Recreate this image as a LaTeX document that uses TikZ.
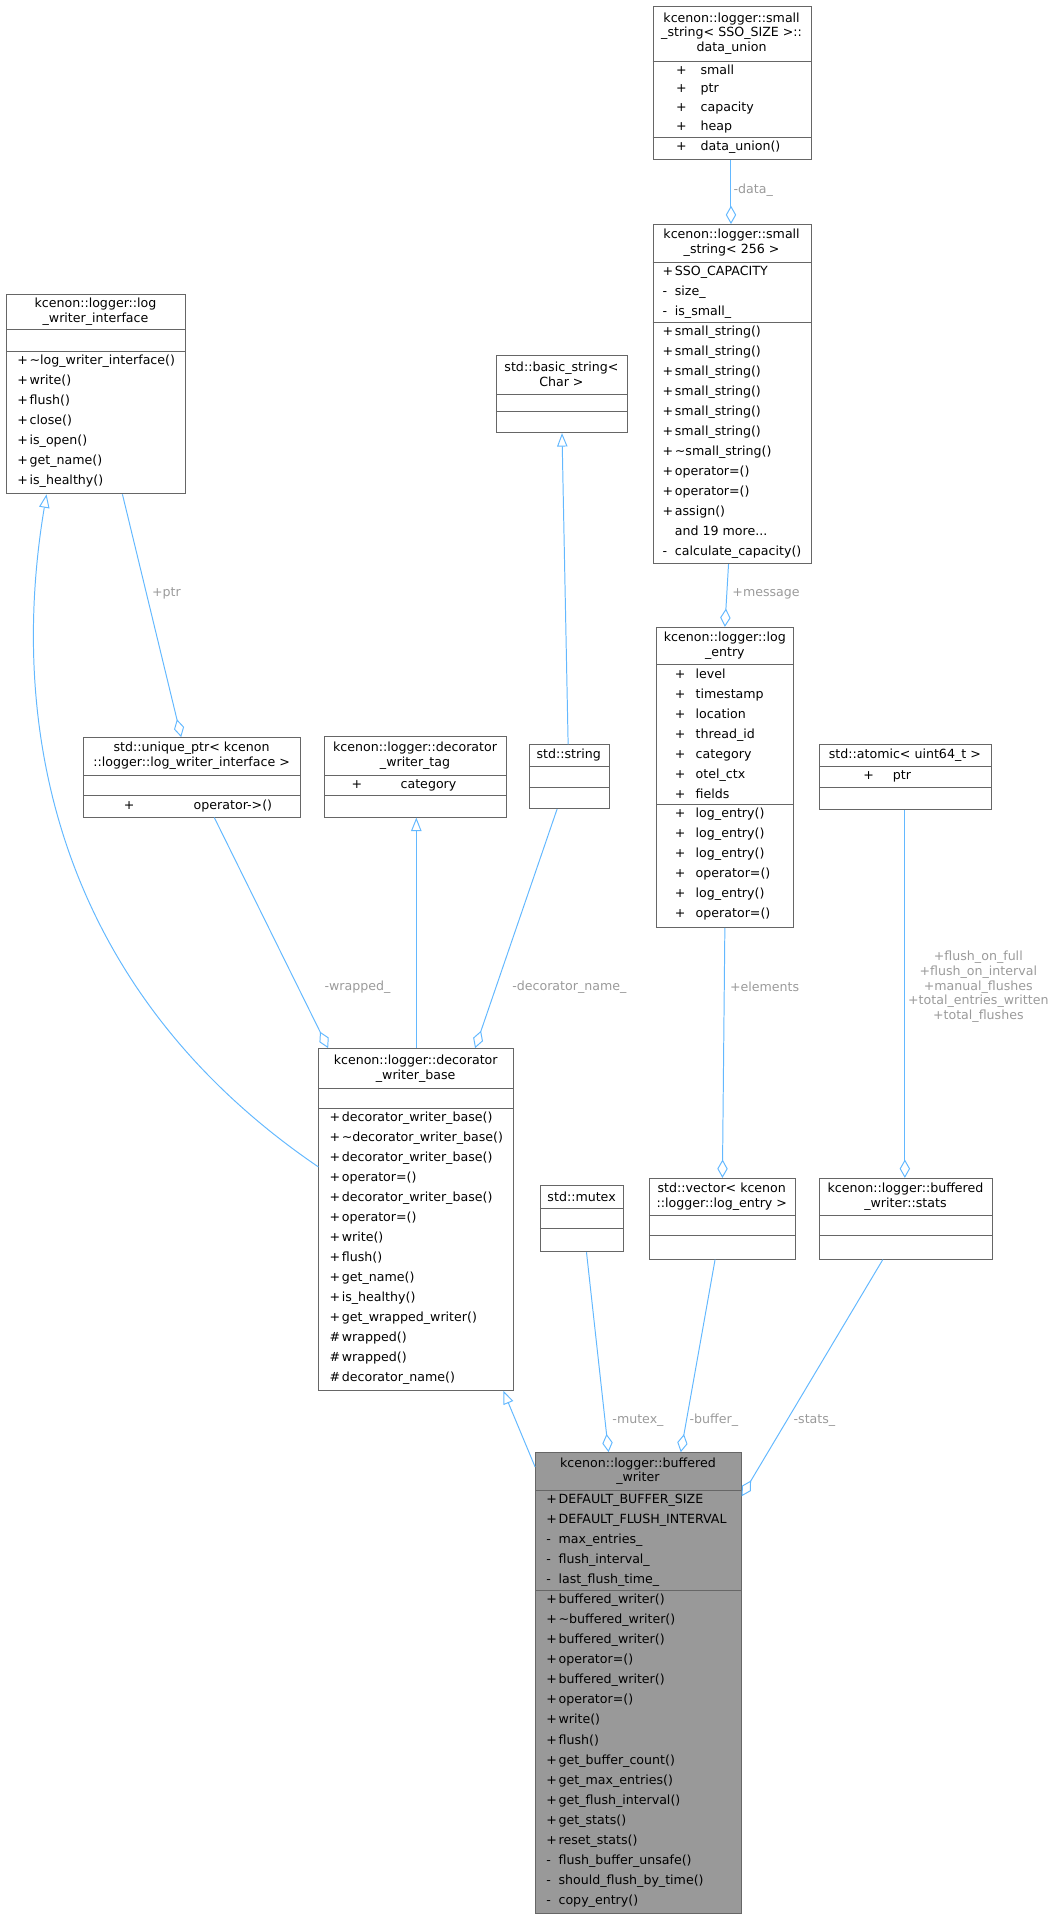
\documentclass[tikz,border=0pt]{standalone}
\usepackage{fontspec}
\setmainfont{DejaVu Sans}
\usetikzlibrary{arrows.meta,calc}
\definecolor{edgec}{HTML}{63B8FF}
\definecolor{labc}{HTML}{9A9A9A}
\definecolor{boxc}{HTML}{666666}
\definecolor{bwfill}{HTML}{999999}
\newcommand\threedots{.\kern0pt.\kern0pt.}
\newcommand\umlbox[9][]{%
  \node[box,#1,minimum width=#5pt,minimum height=#6pt] (#2) at (#3,#4) {};
  \node[ttl] at ({#3+#5/2},{(#4+#8)/2}) {#7};
  \draw[sepl] (#3,#8) -- ++(#5,0);
  \draw[sepl] (#3,#9) -- ++(#5,0);}
\newcommand\mems[5][16.35]{%
  \foreach \s/\t [count=\i] in {#5} {
    \node[mm] at (#2,{#4+(\i-0.5)*#1}) {\s};
    \node[mm] at (#3,{#4+(\i-0.5)*#1}) {\t};}}
\begin{document}
\begin{tikzpicture}[x=1pt,y=-1pt,
  box/.style={draw=boxc,line width=0.7pt,fill=white,inner sep=0,anchor=north west},
  ttl/.style={align=center,font=\fontsize{10.3}{12.2}\selectfont,inner sep=0},
  sepl/.style={draw=boxc,line width=0.7pt},
  mm/.style={anchor=west,inner sep=0,font=\fontsize{10.3}{12}\selectfont,text height=7.6pt,text depth=2.2pt},
  edge/.style={draw=edgec,line width=0.8pt},
  agg/.style={edge,-{Diamond[open,length=15pt,width=8.5pt]}},
  inh/.style={edge,-{Triangle[open,length=11pt,width=8.5pt]}},
  lab/.style={text=labc,font=\fontsize{10.3}{12}\selectfont,inner sep=0}]
\useasboundingbox (0,0) rectangle (863,1564);
% boxes
\umlbox{du}{533}{5}{129}{125}{kcenon::logger::small\\\_string< SSO\_SIZE >::\\data\_union}{50}{112}
\mems[15.5]{552}{572}{50}{+/small,+/ptr,+/capacity,+/heap}
\mems{552}{572}{112}{+/data\_union()}
\umlbox{ss}{533}{183}{129}{277}{kcenon::logger::small\\\_string< 256 >}{214}{263}
\mems{541}{551}{214}{+/SSO\_CAPACITY,-/size\_,-/is\_small\_}
\mems{541}{551}{263}{+/small\_string(),+/small\_string(),+/small\_string(),+/small\_string(),+/small\_string(),+/small\_string(),+/\textasciitilde small\_string(),+/operator=(),+/operator=(),+/assign(),{}/{and 19 more\threedots},-/calculate\_capacity()}
\umlbox{lwi}{5}{240}{146}{163}{kcenon::logger::log\\\_writer\_interface}{269}{287}
\mems{14}{24}{287}{+/\textasciitilde log\_writer\_interface(),+/write(),+/flush(),+/close(),+/is\_open(),+/get\_name(),+/is\_healthy()}
\umlbox{bs}{405}{290}{107}{63}{std::basic\_string<\\Char >}{322}{336}
\umlbox{le}{536}{512}{112}{245}{kcenon::logger::log\\\_entry}{543}{657}
\mems{551}{568}{543}{+/level,+/timestamp,+/location,+/thread\_id,+/category,+/otel\_ctx,+/fields}
\mems{551}{568}{657}{+/log\_entry(),+/log\_entry(),+/log\_entry(),+/operator=(),+/log\_entry(),+/operator=()}
\umlbox{up}{68}{602}{177}{65}{std::unique\_ptr< kcenon\\::logger::log\_writer\_interface >}{633}{650}
\mems{101}{158}{650}{+/operator->()}
\umlbox{dt}{265}{601}{148}{66}{kcenon::logger::decorator\\\_writer\_tag}{633}{650}
\mems{287}{327}{633}{+/category}
\umlbox{str}{432}{608}{65}{52}{std::string}{626}{643}
\umlbox{at}{669}{608}{140}{53}{std::atomic< uint64\_t >}{626}{643}
\mems{705}{729}{626}{+/ptr}
\umlbox{dwb}{260}{856}{159}{279}{kcenon::logger::decorator\\\_writer\_base}{889}{905}
\mems{269}{279}{905}{+/decorator\_writer\_base(),+/\textasciitilde decorator\_writer\_base(),+/decorator\_writer\_base(),+/operator=(),+/decorator\_writer\_base(),+/operator=(),+/write(),+/flush(),+/get\_name(),+/is\_healthy(),+/get\_wrapped\_writer(),\#/wrapped(),\#/wrapped(),\#/decorator\_name()}
\umlbox{mtx}{441}{968}{68}{54}{std::mutex}{987}{1003}
\umlbox{vec}{530}{962}{119}{66}{std::vector< kcenon\\::logger::log\_entry >}{993}{1009}
\umlbox{st}{669}{962}{141}{66}{kcenon::logger::buffered\\\_writer::stats}{993}{1009}
\umlbox[fill=bwfill]{bw}{437}{1186}{168}{376}{kcenon::logger::buffered\\\_writer}{1217}{1299}
\mems{446}{456}{1217}{+/DEFAULT\_BUFFER\_SIZE,+/DEFAULT\_FLUSH\_INTERVAL,-/max\_entries\_,-/flush\_interval\_,-/last\_flush\_time\_}
\mems{446}{456}{1299}{+/buffered\_writer(),+/\textasciitilde buffered\_writer(),+/buffered\_writer(),+/operator=(),+/buffered\_writer(),+/operator=(),+/write(),+/flush(),+/get\_buffer\_count(),+/get\_max\_entries(),+/get\_flush\_interval(),+/get\_stats(),+/reset\_stats(),-/flush\_buffer\_unsafe(),-/should\_flush\_by\_time(),-/copy\_entry()}
% edges
\draw[agg] ($(du.south west)+(64,0)$) -- ($(ss.north west)+(64,0)$);
\node[lab,anchor=west] at (599,155) {-data\_};
\draw[agg] ($(ss.south west)+(62,0)$) -- ($(le.north west)+(56,0)$);
\node[lab,anchor=west] at (598,485) {+message};
\draw[inh] ($(str.north west)+(32,0)$) -- ($(bs.south west)+(54,0)$);
\draw[agg] ($(lwi.south west)+(95,0)$) -- ($(up.north west)+(80,0)$);
\node[lab,anchor=west] at (124,485) {+ptr};
\draw[inh] ($(dwb.north west)+(0,97)$) .. controls (50,810) and (5,600) .. ($(lwi.south west)+(33,0)$);
\draw[agg] ($(up.south west)+(107,0)$) -- ($(dwb.north west)+(8,0)$);
\node[lab] at (292,806) {-wrapped\_};
\draw[inh] ($(dwb.north west)+(80,0)$) -- ($(dt.south west)+(75,0)$);
\draw[agg] ($(str.south west)+(23,0)$) -- ($(dwb.north west)+(128,0)$);
\node[lab] at (465,806) {-decorator\_name\_};
\draw[agg] ($(le.south west)+(56,0)$) -- ($(vec.north west)+(60,0)$);
\node[lab,anchor=west] at (596,806) {+elements};
\draw[agg] ($(at.south west)+(70,0)$) -- ($(st.north west)+(70,0)$);
\node[lab,align=center,font=\fontsize{10.3}{12}\selectfont] at (799,806) {+flush\_on\_full\\+flush\_on\_interval\\+manual\_flushes\\+total\_entries\_written\\+total\_flushes};
\draw[inh] ($(bw.north west)+(0,12)$) -- ($(dwb.south west)+(151,0)$);
\draw[agg] ($(mtx.south west)+(38,0)$) -- ($(bw.north west)+(60,0)$);
\node[lab,anchor=west] at (500,1160) {-mutex\_};
\draw[agg] ($(vec.south west)+(54,0)$) -- ($(bw.north west)+(119,0)$);
\node[lab,anchor=west] at (563,1160) {-buffer\_};
\draw[agg] ($(st.south west)+(52,0)$) -- ($(bw.north east)+(0,36)$);
\node[lab,anchor=west] at (648,1160) {-stats\_};
\end{tikzpicture}
\end{document}
